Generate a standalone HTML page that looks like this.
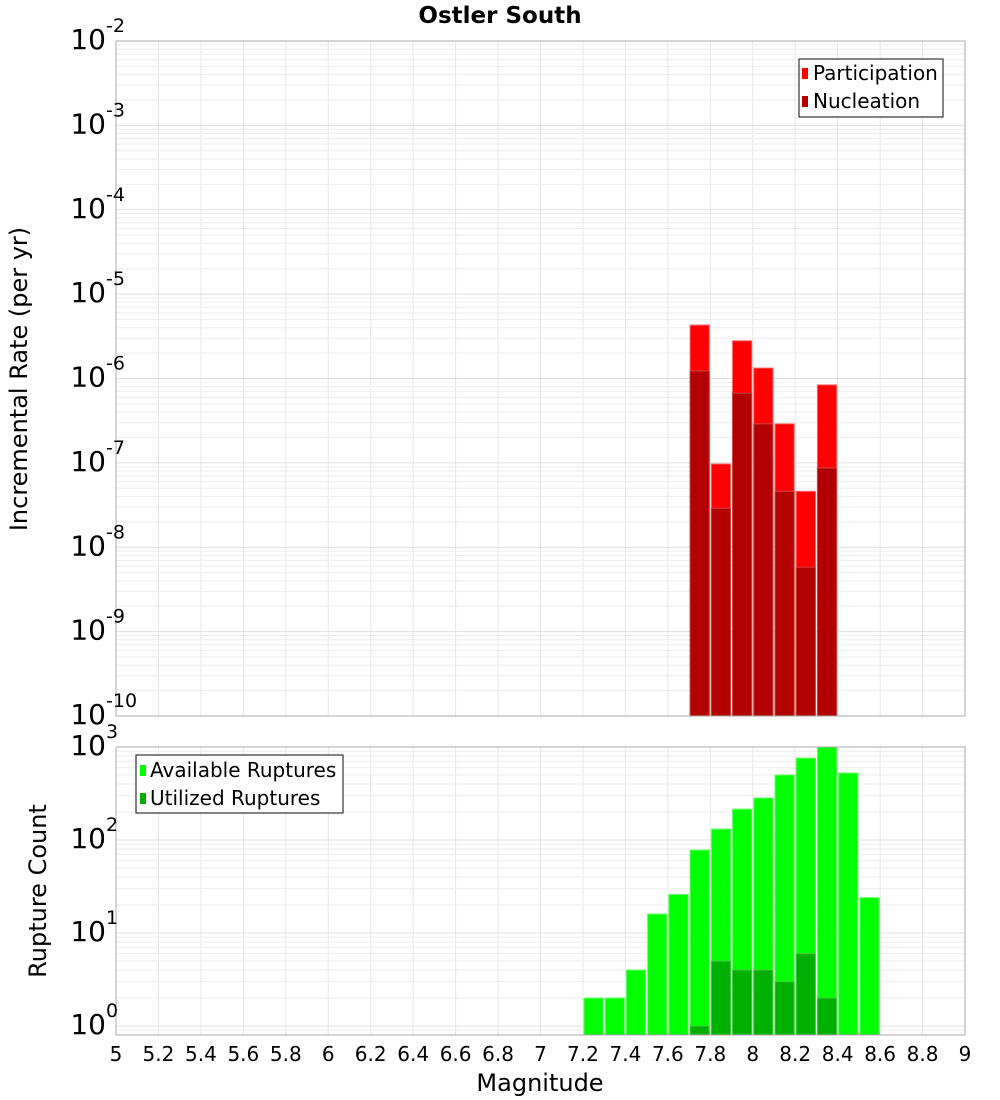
<!DOCTYPE html>
<html><head><meta charset="utf-8"><style>
html,body{margin:0;padding:0;background:#fff;}
svg{display:block;font-family:"DejaVu Sans","Liberation Sans",sans-serif;}
</style></head><body>
<svg id="chart" width="1000" height="1100" xmlns="http://www.w3.org/2000/svg">
<text x="500" y="23" text-anchor="middle" font-size="23" font-weight="bold">Ostler South</text>
<g id="topPlot"></g>
<g id="botPlot"></g>
<text transform="translate(27,379) rotate(-90)" text-anchor="middle" font-size="24">Incremental Rate (per yr)</text>
<text transform="translate(46,891) rotate(-90)" text-anchor="middle" font-size="24">Rupture Count</text>
<text x="540" y="1091" text-anchor="middle" font-size="24">Magnitude</text>
<g>
<rect x="799" y="59" width="144" height="58" fill="#fff" stroke="#333" stroke-width="1.2"/>
<rect x="802" y="68" width="6" height="11" fill="#ff0000"/>
<text x="813" y="80" font-size="20">Participation</text>
<rect x="802" y="96" width="6" height="11" fill="#b30000"/>
<text x="813" y="108" font-size="20">Nucleation</text>
</g>
<g>
<rect x="136" y="755" width="207" height="58" fill="#fff" stroke="#333" stroke-width="1.2"/>
<rect x="140" y="765" width="6" height="11" fill="#00ff00"/>
<text x="150" y="777" font-size="20">Available Ruptures</text>
<rect x="140" y="793" width="6" height="11" fill="#00b000"/>
<text x="150" y="805" font-size="20">Utilized Ruptures</text>
</g>
</svg>
<script>
const bins=[7.25,7.35,7.45,7.55,7.65,7.75,7.85,7.95,8.05,8.15,8.25,8.35,8.45,8.55];
const rateBins=[7.75,7.85,7.95,8.05,8.15,8.25,8.35];
const participation=[4.3e-6,9.7e-8,2.8e-6,1.33e-6,2.9e-7,4.6e-8,8.4e-7];
const nucleation=[1.23e-6,2.9e-8,6.7e-7,2.9e-7,4.6e-8,5.8e-9,8.7e-8];
const available=[2,2,4,16,26,78,131,215,283,500,760,1000,525,24];
const utilized=[0,0,0,0,0,1,5,4,4,3,6,2,0,0];
const xTicks=[5,5.2,5.4,5.6,5.8,6,6.2,6.4,6.6,6.8,7,7.2,7.4,7.6,7.8,8,8.2,8.4,8.6,8.8,9];
const xTickLabels=["5","5.2","5.4","5.6","5.8","6","6.2","6.4","6.6","6.8","7","7.2","7.4","7.6","7.8","8","8.2","8.4","8.6","8.8","9"];
const rateExps=[-2,-3,-4,-5,-6,-7,-8,-9,-10];
const countExps=[3,2,1,0];

const NS="http://www.w3.org/2000/svg";
const L=116,R=965;
const X=m=>L+(m-5)*(R-L)/4;
const TT=41,TB=716;
const Yt=v=>TT+(-2-Math.log10(v))*(TB-TT)/8;
const BT=747,BB=1035,B0=1026;
const Yb=v=>B0-Math.log10(v)*(B0-BT)/3;
function el(p,t,a){const e=document.createElementNS(NS,t);for(const k in a)e.setAttribute(k,a[k]);p.appendChild(e);return e;}
const gTop=document.getElementById('topPlot'),gBot=document.getElementById('botPlot');

function grid(g,yT,yB,Yf,eLo,eHi){
  for(const t of xTicks){const l=el(g,'line',{x1:X(t),x2:X(t),y1:yT,y2:yB,stroke:'#e6e6e6'});
    
    }
  for(let e=eLo;e<=eHi;e++)for(let k=1;k<10;k++){const y=Yf(k*Math.pow(10,e));if(y<yT-0.5||y>yB+0.5)continue;
    const l=el(g,'line',{x1:L,x2:R,y1:y,y2:y,stroke:k==1?'#e0e0e0':'#eeeeee'});
    
    }
}
grid(gTop,TT,TB,Yt,-11,-2);
grid(gBot,BT,BB,Yb,-1,3);

const w=(R-L)/40;
function bar(g,m,v,base,Yf,fill,stroke,name){
  const y=Yf(v);const r=el(g,'rect',{x:X(m-0.05)+1,y:y,width:w-2,height:base-y,fill:fill,stroke:stroke,'stroke-width':1});
  
  
}
rateBins.forEach((m,i)=>bar(gTop,m,participation[i],TB,Yt,'#ff0000','#ff6666','participation-bar'));
rateBins.forEach((m,i)=>bar(gTop,m,nucleation[i],TB,Yt,'#b30000','#cc4444','nucleation-bar'));
bins.forEach((m,i)=>{if(available[i]>0)bar(gBot,m,available[i],BB,Yb,'#00ff00','#66ff66','available-bar');});
bins.forEach((m,i)=>{if(utilized[i]>0)bar(gBot,m,utilized[i],BB,Yb,'#00b000','#44cc44','utilized-bar');});

el(gTop,'rect',{x:L,y:TT,width:R-L,height:TB-TT,fill:'none',stroke:'#aaaaaa'});
el(gBot,'rect',{x:L,y:BT,width:R-L,height:BB-BT,fill:'none',stroke:'#aaaaaa'});

function ylab(g,e,y,name){
  const t=el(g,'text',{x:106,y:y+8,'text-anchor':'end','font-size':28});
  t.textContent='10';
  
  
  const s=el(g,'text',{x:106,y:y-9,'font-size':19});
  s.textContent=String(e);
  
  
}
rateExps.forEach(e=>ylab(gTop,e,Yt(Math.pow(10,e)),'rate-tick-label'));
countExps.forEach(e=>ylab(gBot,e,Yb(Math.pow(10,e)),'count-tick-label'));
xTicks.forEach((t,i)=>{const tx=el(gBot,'text',{x:X(t),y:1061,'text-anchor':'middle','font-size':20});
  tx.textContent=xTickLabels[i];
  
  });
</script>
</body></html>
